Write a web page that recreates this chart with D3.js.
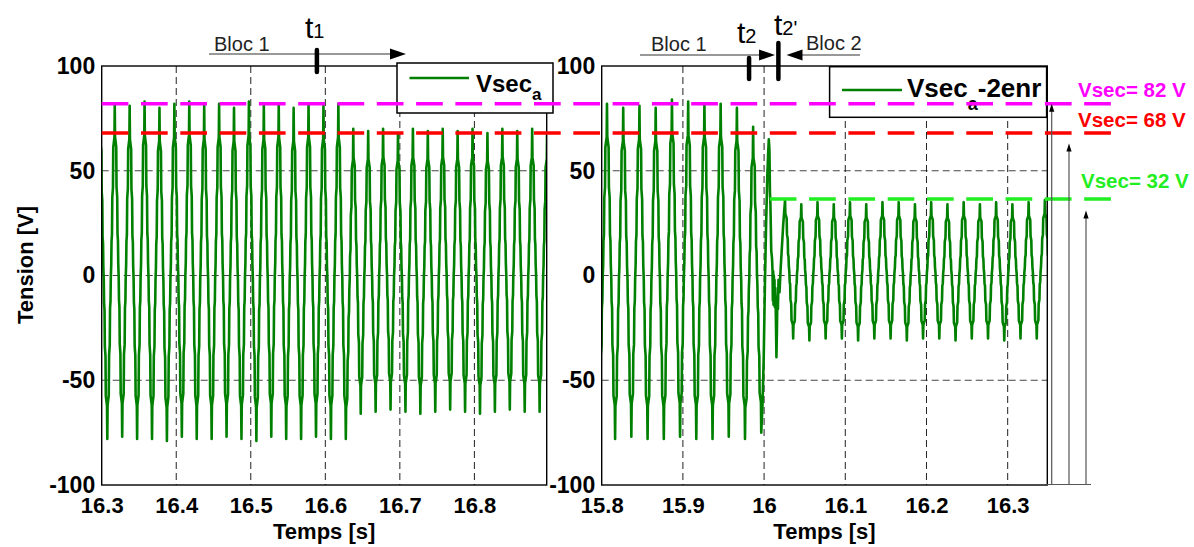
<!DOCTYPE html>
<html><head><meta charset="utf-8">
<script src="https://cdn.jsdelivr.net/npm/d3@7"></script>
<style>
html,body{margin:0;padding:0;background:#fff;}
svg{display:block;font-family:"Liberation Sans",Arial,Helvetica,sans-serif;}
</style></head><body>
<svg id="chart" width="1194" height="547"></svg>
<script>
// ---------------- data ----------------
const yTicks = [-100, -50, 0, 50, 100];
const yTickLabels = ["-100", "-50", "0", "50", "100"];
const leftXTicks = [16.3, 16.4, 16.5, 16.6, 16.7, 16.8];
const leftXTickLabels = ["16.3", "16.4", "16.5", "16.6", "16.7", "16.8"];
const rightXTicks = [15.8, 15.9, 16.0, 16.1, 16.2, 16.3];
const rightXTickLabels = ["15.8", "15.9", "16", "16.1", "16.2", "16.3"];
const leftDomain = [16.3, 16.897];
const rightDomain = [15.8, 16.3488];

// successive extremes (peak / trough) of the waveform, one every half period
const halfPeriod = 0.01;
const leftStart = 16.2975;
const leftExtremes = [80,
  -78, 82, -77, 81, -78, 83, -78, 80, -79, 82, -77, 83, -78, 81, -78, 82,
  -77, 80, -78, 83, -79, 81, -77, 82, -78, 80, -78, 82, -77, 81, -78, 82,
  -78, 70, -66, 69, -65, 70, -64, 68, -65, 70, -66, 69, -65, 70, -64, 69,
  -65, 70, -66, 68, -65, 70, -64, 69, -65, 70, -65, 69];
const rightBigStart = 15.7965;
const rightBigExtremes = [-78, 82, -78, 80, -77, 81, -78, 80, -78, 84, -77,
  83, -78, 82, -78, 82, -77, 80, -78, 71, -75];
// transition around t2 / t2'
const rightTransientT = [15.998, 15.9995, 16.001, 16.0025, 16.004, 16.005, 16.0058,
  16.0066, 16.0072, 16.0078, 16.0088, 16.0098, 16.0104, 16.0108, 16.0112, 16.0116,
  16.012, 16.0124, 16.0128, 16.0132, 16.0138, 16.0146, 16.0152, 16.0158, 16.0164,
  16.017, 16.0178, 16.019, 16.0205, 16.022, 16.0235];
const rightTransientV = [-62, -40, -5, 25, 48, 58, 65,
  60, 40, 34, 12, 8, 2, -12, 2, -14,
  0, -13, -2, -15, -6, -22, -39, -26, -10,
  -16, -2, -8, 4, 14, 24];
const rightSmallStart = 16.0258;
const rightSmallExtremes = [36, -30, 34, -31, 35, -30, 34, -30, 35, -31, 34, -30,
  35, -30, 35, -31, 34, -30, 35, -30, 34, -31, 35, -30, 34, -30, 35, -31, 34, -30,
  35, -30, 36, -30];
// staircase shape of one rising edge (time fraction, level fraction)
const stepShapeT = [0, 0.04, 0.2, 0.24, 0.33, 0.37, 0.43, 0.47, 0.53, 0.57, 0.63, 0.67, 0.76, 0.8, 0.96, 1];
const stepShapeV = [0, 0.1, 0.13, 0.25, 0.28, 0.39, 0.41, 0.48, 0.52, 0.59, 0.61, 0.72, 0.75, 0.87, 0.9, 1];

const refLevels = [82, 68, 36.5];
const refLabels = ["Vsec= 82 V", "Vsec= 68 V", "Vsec= 32 V"];
const refColors = ["#ff00ff", "#ff0000", "#22ee22"];
const refStartPanel = ["L", "L", "R"];
const refStartT = [16.3, 16.3, 16.007];
const arrowTops = [82, 63, 31];

const t1 = 16.5887, t2 = 15.9815, t2p = 16.0176;

// ---------------- layout ----------------
const svg = d3.select("#chart");
const y = d3.scaleLinear([-100, 100], [485, 66]);
const xL = d3.scaleLinear(leftDomain, [101.7, 546.7]);
const xR = d3.scaleLinear(rightDomain, [601.7, 1047.3]);
const waveColor = "#008000";

function buildWave(start, vals) {
  const pts = [[start, vals[0]]];
  const n = stepShapeT.length;
  for (let i = 0; i < vals.length - 1; i++) {
    const t0 = start + i * halfPeriod, v0 = vals[i], v1 = vals[i + 1];
    const rising = v1 > v0;
    for (let j = 1; j < n; j++) {
      if (rising) pts.push([t0 + stepShapeT[j] * halfPeriod, v0 + stepShapeV[j] * (v1 - v0)]);
      else {
        const k = n - 1 - j;
        pts.push([t0 + (1 - stepShapeT[k]) * halfPeriod, v1 + stepShapeV[k] * (v0 - v1)]);
      }
    }
  }
  return pts;
}

const leftPts = buildWave(leftStart, leftExtremes);
const rightPts = buildWave(rightBigStart, rightBigExtremes)
  .concat(rightTransientT.map((t, i) => [t, rightTransientV[i]]))
  .concat(buildWave(rightSmallStart, rightSmallExtremes));

function panel(id, x, ticks, tickLabels, pts) {
  const g = svg.append("g");
  const [x0, x1] = x.range();
  g.append("clipPath").attr("id", id).append("rect")
    .attr("x", x0).attr("y", y(100)).attr("width", x1 - x0).attr("height", y(-100) - y(100));
  // grid
  g.append("g").selectAll("line").data(yTicks.filter(d => d > -100 && d < 100)).join("line")
    .attr("x1", x0).attr("x2", x1).attr("y1", d => y(d)).attr("y2", d => y(d))
    .attr("stroke", "#444").attr("stroke-width", 1).attr("stroke-dasharray", "7,4");
  g.append("g").selectAll("line").data(ticks.filter(d => x(d) > x0 + 2 && x(d) < x1 - 2)).join("line")
    .attr("x1", d => x(d)).attr("x2", d => x(d)).attr("y1", y(100)).attr("y2", y(-100))
    .attr("stroke", "#222").attr("stroke-width", 1).attr("stroke-dasharray", "7,4");
  // waveform
  g.append("path").datum(pts).attr("clip-path", `url(#${id})`)
    .attr("d", d3.line().x(d => x(d[0])).y(d => y(d[1])))
    .attr("fill", "none").attr("stroke", waveColor).attr("stroke-width", 2.6)
    .attr("stroke-linejoin", "round");
  // frame
  g.append("rect").attr("x", x0).attr("y", y(100)).attr("width", x1 - x0).attr("height", y(-100) - y(100))
    .attr("fill", "none").attr("stroke", "#000").attr("stroke-width", 1.4);
  // axes
  const ax = g.append("g").attr("transform", `translate(0,${y(-100)})`)
    .call(d3.axisBottom(x).tickValues(ticks).tickSize(0).tickPadding(12)
      .tickFormat((d, i) => tickLabels[i]));
  ax.select(".domain").remove();
  ax.selectAll("text").attr("font-size", 22).attr("font-weight", "bold").attr("fill", "#000")
    .attr("font-family", "Liberation Sans, Arial, sans-serif");
  const ay = g.append("g").attr("transform", `translate(${x0},0)`)
    .call(d3.axisLeft(y).tickValues(yTicks).tickSize(0).tickPadding(6.5)
      .tickFormat((d, i) => yTickLabels[i]));
  ay.select(".domain").remove();
  ay.selectAll("text").attr("font-size", 23).attr("font-weight", "bold").attr("fill", "#000")
    .attr("font-family", "Liberation Sans, Arial, sans-serif");
  // x title
  g.append("text").attr("x", (x0 + x1) / 2).attr("y", 539).attr("text-anchor", "middle")
    .attr("font-size", 22).attr("font-weight", "bold").text("Temps [s]");
}

panel("clipL", xL, leftXTicks, leftXTickLabels, leftPts);
panel("clipR", xR, rightXTicks, rightXTickLabels, rightPts);

// y title
svg.append("text").attr("transform", "translate(33,265) rotate(-90)").attr("text-anchor", "middle")
  .attr("font-size", 22).attr("font-weight", "bold").text("Tension [V]");

// legends
function legend(x, yy, w, h, lx1, lx2, ly, tx, ty, fs, subFs, subDy, rest) {
  const g = svg.append("g");
  g.append("rect").attr("x", x).attr("y", yy).attr("width", w).attr("height", h)
    .attr("fill", "#fff").attr("stroke", "#000").attr("stroke-width", 1.5);
  g.append("line").attr("x1", lx1).attr("x2", lx2).attr("y1", ly).attr("y2", ly)
    .attr("stroke", waveColor).attr("stroke-width", 2.5);
  const t = g.append("text").attr("x", tx).attr("y", ty).attr("font-size", fs).attr("font-weight", "bold");
  t.append("tspan").text("Vsec");
  t.append("tspan").attr("font-size", subFs).attr("dy", subDy).text("a");
  if (rest) t.append("tspan").attr("dy", -subDy).text(rest);
}
legend(397, 63, 156, 50, 409.5, 469, 78, 476, 92, 24, 17, 8, null);
legend(829.6, 66.7, 217, 50.6, 842, 902, 90, 907, 97, 26, 18, 13, "-2enr");

// reference dashed lines
refLevels.forEach((v, i) => {
  const xs = refStartPanel[i] === "L" ? xL(refStartT[i]) : xR(refStartT[i]);
  svg.append("line").attr("x1", xs).attr("x2", 1113).attr("y1", y(v)).attr("y2", y(v))
    .attr("stroke", refColors[i]).attr("stroke-width", 3.6).attr("stroke-dasharray", "26.7,12.6");
});
const labelX = [1078, 1078, 1081], labelDy = [-6.5, -6.5, -11];
refLevels.forEach((v, i) => {
  svg.append("text").attr("x", labelX[i]).attr("y", y(v) + labelDy[i])
    .attr("font-size", 20.5).attr("font-weight", "bold").attr("fill", refColors[i]).text(refLabels[i]);
});

// right-side arrows
const arrowX = [1051.7, 1069, 1086];
svg.append("line").attr("x1", 1047).attr("x2", 1091).attr("y1", 484.5).attr("y2", 484.5)
  .attr("stroke", "#555").attr("stroke-width", 1.2);
arrowTops.forEach((v, i) => {
  const xx = arrowX[i], yt = y(v);
  svg.append("line").attr("x1", xx).attr("x2", xx).attr("y1", 484.5).attr("y2", yt + 6)
    .attr("stroke", "#555").attr("stroke-width", 1.2);
  svg.append("path").attr("d", `M${xx},${yt} L${xx - 2.6},${yt + 8} L${xx + 2.6},${yt + 8} Z`).attr("fill", "#000");
});

// top annotations
function arrowLine(xa, xb, yy) {
  const dir = xb > xa ? 1 : -1;
  svg.append("line").attr("x1", xa).attr("x2", xb - dir * 10).attr("y1", yy).attr("y2", yy)
    .attr("stroke", "#333").attr("stroke-width", 1.2);
  svg.append("path").attr("d", `M${xb},${yy} L${xb - dir * 16},${yy - 5.5} L${xb - dir * 16},${yy + 5.5} Z`).attr("fill", "#000");
}
function bar(xx, y1, y2) {
  svg.append("line").attr("x1", xx).attr("x2", xx).attr("y1", y1).attr("y2", y2)
    .attr("stroke", "#000").attr("stroke-width", 4.5).attr("stroke-linecap", "round");
}
function tLabel(xx, yy, sub) {
  const t = svg.append("text").attr("x", xx).attr("y", yy).attr("font-size", 30);
  t.append("tspan").text("t");
  t.append("tspan").attr("font-size", 20).text(sub);
}
function plainText(xx, yy, s) {
  svg.append("text").attr("x", xx).attr("y", yy).attr("font-size", 20).attr("fill", "#222").text(s);
}
// left
plainText(214, 51, "Bloc 1");
arrowLine(xL(16.444), xL(16.7082), 54);
bar(xL(t1), 50, 72);
tLabel(305, 38, "1");
// right
plainText(651, 51, "Bloc 1");
arrowLine(xR(15.8472), xR(16.0135), 55);
bar(xR(t2), 58, 79);
bar(xR(t2p), 43, 79);
tLabel(737, 43, "2");
tLabel(774, 35, "2'");
plainText(806, 50, "Bloc 2");
arrowLine(xR(16.1181), xR(16.0276), 55);
</script>
</body></html>
